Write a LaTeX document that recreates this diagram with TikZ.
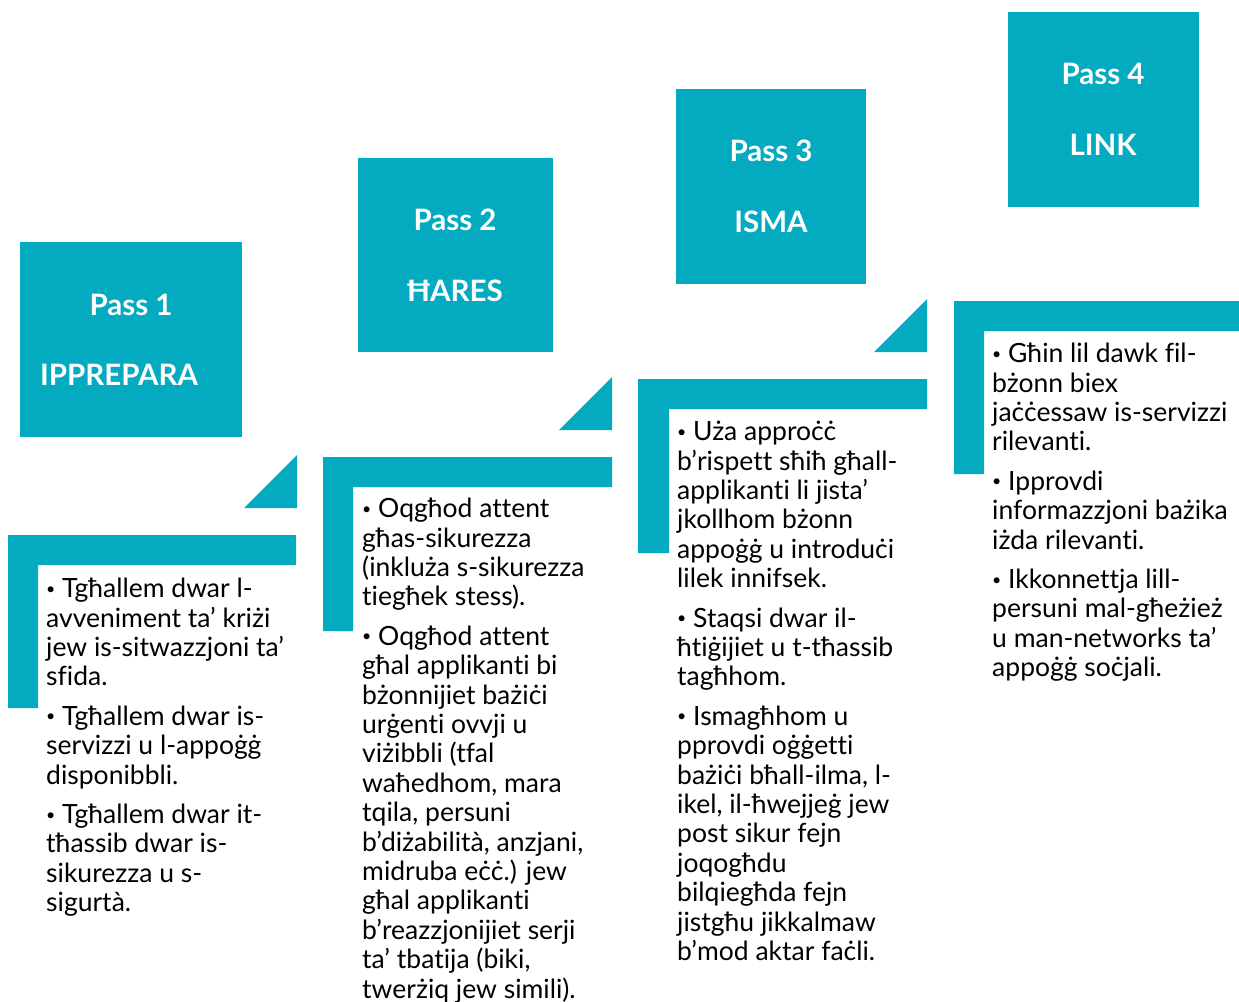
\documentclass[tikz,border=0pt]{standalone}
\usepackage{fontspec}
\setmainfont{Lato}[Ligatures=NoCommon]
\usetikzlibrary{positioning}
\definecolor{passteal}{RGB}{4,170,191}
\newcommand{\pbul}{\raisebox{3.5pt}{\scalebox{0.6}{•}}}

\begin{document}
\begin{tikzpicture}[x=1pt,y=-1pt,
    passbox/.style={fill=passteal,anchor=north west,inner sep=0pt},
    passtitle/.style={text=white,anchor=base,font=\fontsize{29.5}{31}\selectfont\bfseries,inner sep=0pt},
    passtext/.style={anchor=north west,align=left,inner sep=0pt,font=\fontsize{26.5}{29.4}\selectfont}]
\useasboundingbox (0,0) rectangle (1239,1001);

% kaxxi tal-passi
\foreach \n/\x/\y/\w/\h in {1/20/242/222/195,2/358/158/195/194,3/676/89/190/195,4/1008/12/191/195}
  \node[passbox,minimum width=\w pt,minimum height=\h pt] (box\n) at (\x,\y) {};

\node[passtitle] (pass1) at (131,315) {Pass 1};
\node[passtitle,anchor=base west] (name1) at (40,385) {IPPREPARA};
\node[passtitle] (pass2) at (455,230) {Pass 2};
\node[passtitle] (name2) at (455,301) {ĦARES};
\node[passtitle] (pass3) at (771,161) {Pass 3};
\node[passtitle] (name3) at (771,232) {ISMA};
\node[passtitle] (pass4) at (1103,84) {Pass 4};
\node[passtitle] (name4) at (1103,155) {LINK};

% triangoli
\fill[passteal] (244,508) -- (297,508) -- (297,455) -- cycle;
\fill[passteal] (559,430) -- (612,430) -- (612,377) -- cycle;
\fill[passteal] (874,352) -- (927,352) -- (927,299) -- cycle;

% kantunieri
\fill[passteal] (8,535) -| (296,565) -| (38,708) -| cycle;
\fill[passteal] (323,457) -| (612,487) -| (353,631) -| cycle;
\fill[passteal] (638,379) -| (927,409) -| (669,553) -| cycle;
\fill[passteal] (954,301) -| (1239,331) -| (984,474) -| cycle;

% test
\node[passtext] (text1) at (46,578) {\pbul{} Tgħallem dwar l-\\avveniment ta’ kriżi\\jew is-sitwazzjoni ta’\\sfida.\\[10pt]
\pbul{} Tgħallem dwar is-\\servizzi u l-appoġġ\\disponibbli.\\[10pt]
\pbul{} Tgħallem dwar it-\\tħassib dwar is-\\sikurezza u s-\\sigurtà.};
\node[passtext] (text2) at (362,498) {\pbul{} Oqgħod attent\\għas-sikurezza\\(inkluża s-sikurezza\\tiegħek stess).\\[10pt]
\pbul{} Oqgħod attent\\għal applikanti bi\\bżonnijiet bażiċi\\urġenti ovvji u\\viżibbli (tfal\\waħedhom, mara\\tqila, persuni\\b’diżabilità, anzjani,\\midruba eċċ.) jew\\għal applikanti\\b’reazzjonijiet serji\\ta’ tbatija (biki,\\twerżiq jew simili).};
\node[passtext] (text3) at (677,421) {\pbul{} Uża approċċ\\b’rispett sħiħ għall-\\applikanti li jista’\\jkollhom bżonn\\appoġġ u introduċi\\lilek innifsek.\\[10pt]
\pbul{} Staqsi dwar il-\\ħtiġijiet u t-tħassib\\tagħhom.\\[10pt]
\pbul{} Ismagħhom u\\pprovdi oġġetti\\bażiċi bħall-ilma, l-\\ikel, il-ħwejjeġ jew\\post sikur fejn\\joqogħdu\\bilqiegħda fejn\\jistgħu jikkalmaw\\b’mod aktar faċli.};
\node[passtext] (text4) at (992,343) {\pbul{} Għin lil dawk fil-\\bżonn biex\\jaċċessaw is-servizzi\\rilevanti.\\[10pt]
\pbul{} Ipprovdi\\informazzjoni bażika\\iżda rilevanti.\\[10pt]
\pbul{} Ikkonnettja lill-\\persuni mal-għeżież\\u man-networks ta’\\appoġġ soċjali.};
\end{tikzpicture}
\end{document}
